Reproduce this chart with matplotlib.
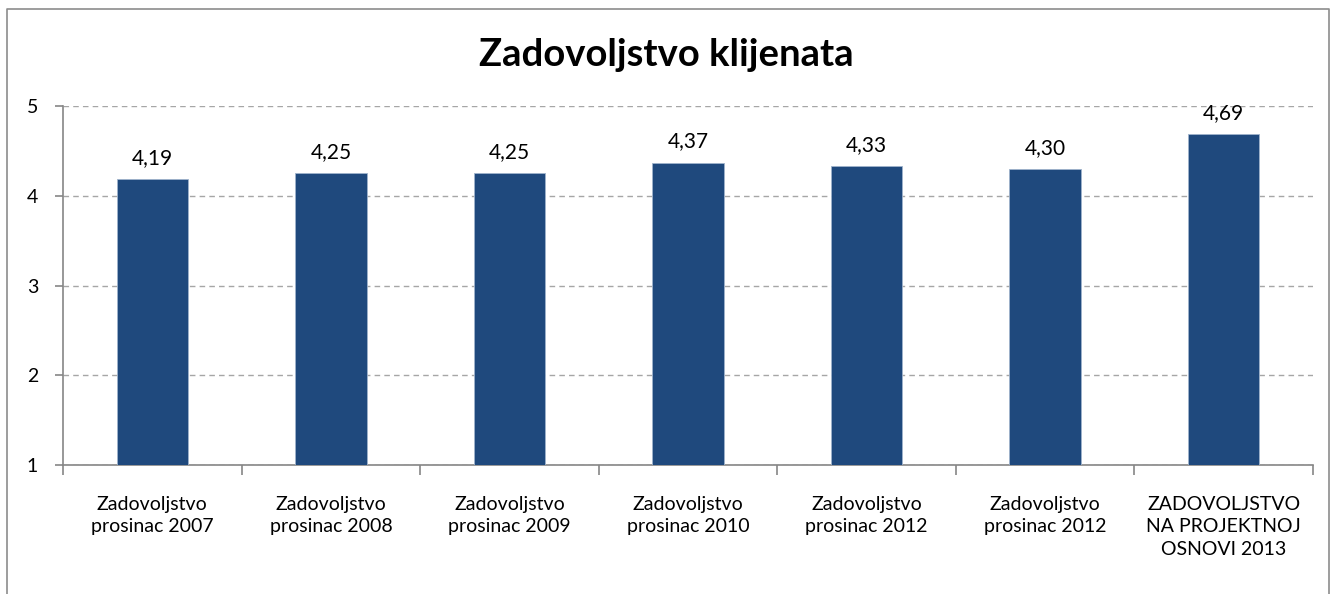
import matplotlib
matplotlib.use("Agg")
import matplotlib.pyplot as plt
from matplotlib.lines import Line2D

plt.rcParams["font.family"] = ["Lato", "DejaVu Sans"]

# dados
kategorije = [
    "Zadovoljstvo\nprosinac 2007",
    "Zadovoljstvo\nprosinac 2008",
    "Zadovoljstvo\nprosinac 2009",
    "Zadovoljstvo\nprosinac 2010",
    "Zadovoljstvo\nprosinac 2012",
    "Zadovoljstvo\nprosinac 2012",
    "ZADOVOLJSTVO\nNA PROJEKTNOJ\nOSNOVI 2013",
]
vrijednosti = [4.19, 4.25, 4.25, 4.37, 4.33, 4.30, 4.69]
y_ticks = [1, 2, 3, 4, 5]

BOJA_STUPCA = "#1F497D"
BOJA_OSI = "#868686"

fig = plt.figure(figsize=(13.33, 5.94), dpi=100)
ax = fig.add_axes([0.0473, 0.2172, 0.9377, 0.6043])

# okvir grafikona (lijevo, gore, desno)
fig.add_artist(Line2D([7 / 1333, 7 / 1333, 1329 / 1333, 1329 / 1333],
                      [0, 1 - 9 / 594, 1 - 9 / 594, 0],
                      transform=fig.transFigure, color="#8C8C8C", lw=1.2))

x = list(range(len(kategorije)))
ax.bar(x, [v - 1 for v in vrijednosti], bottom=1, width=0.4,
       color=BOJA_STUPCA, edgecolor="#9FB3CC", linewidth=0.6, zorder=3)

for xi, v in zip(x, vrijednosti):
    ax.annotate(f"{v:.2f}".replace(".", ","), (xi, v), xytext=(0, 8),
                textcoords="offset points", ha="center", va="bottom",
                fontsize=15, color="#000000")

ax.set_xlim(-0.5, len(kategorije) - 0.5)
ax.set_ylim(1, 5)
ax.set_yticks(y_ticks)
ax.set_yticklabels([str(t) for t in y_ticks], fontsize=14)
ax.set_xticks(x)
ax.set_xticklabels(kategorije, fontsize=14, linespacing=1.4)
ax.set_xticks([i - 0.5 for i in range(len(kategorije) + 1)], minor=True)
ax.tick_params(axis="x", which="major", length=0, pad=22)
ax.tick_params(axis="x", which="minor", length=7, color=BOJA_OSI, width=1.2)
ax.tick_params(axis="y", length=6, color=BOJA_OSI, width=1.2, pad=12)

ax.yaxis.grid(True, linestyle=(0, (4, 3)), color="#A6A6A6", linewidth=1.0, zorder=0)
for s in ["top", "right"]:
    ax.spines[s].set_visible(False)
for s in ["left", "bottom"]:
    ax.spines[s].set_color(BOJA_OSI)
    ax.spines[s].set_linewidth(1.2)

fig.text(0.5, 1 - 55 / 594, "Zadovoljstvo klijenata", ha="center", va="center",
         fontsize=27.5, fontweight="bold")

fig.savefig("out.png", dpi=100)
